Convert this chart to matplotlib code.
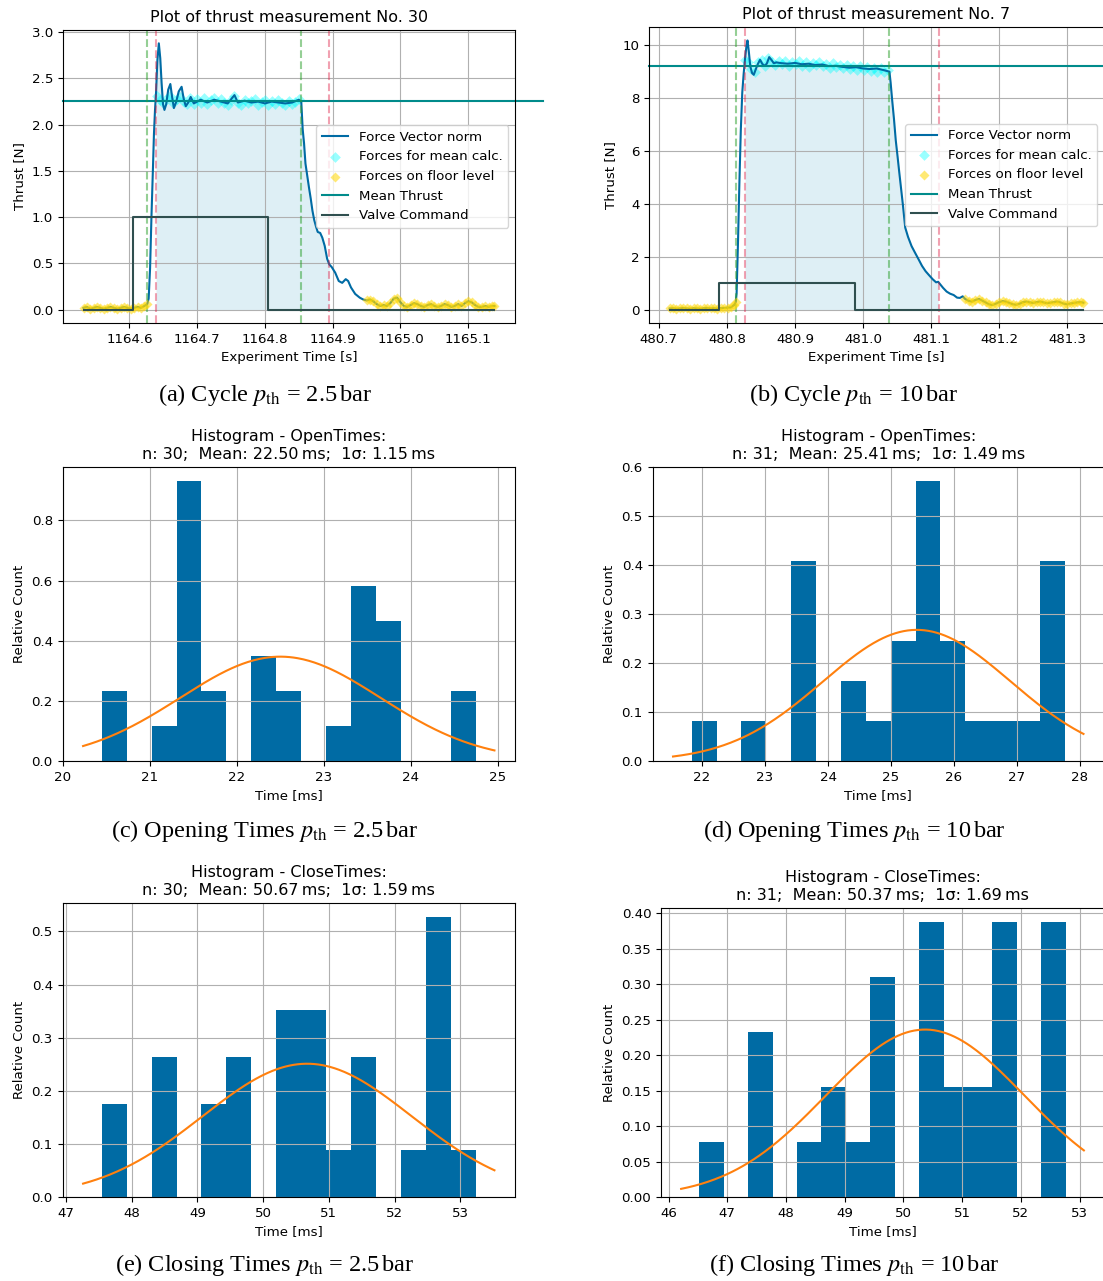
import numpy as np
import matplotlib.pyplot as plt

plt.rcParams['mathtext.fontset'] = 'stix'
plt.rcParams['font.size'] = 9.6

BLUE = '#006ba4'
ORANGE = '#ff800e'

# --- thrust cycle, p_th = 2.5 bar (measurement No. 30); times in ms after T0_A
T0_A = 1164.5
t_a = [32.3, 37, 42, 47, 52, 57, 62, 67, 72, 77, 82, 87, 92, 97, 102, 107, 112, 117, 122, 126.3,
       128.4, 130.5, 132.5, 134.6, 136.2, 137.7, 139.3, 141.3, 143.4, 145.5, 147.5, 149.6, 151.7,
       154.2, 157.3, 160.4, 163.0, 165.6, 168.7, 172.8, 177.0, 180.1, 183.2, 186.8, 190.4,
       195, 205, 215, 225, 235, 245, 255, 260, 270, 280, 290, 300, 310, 320, 330, 340, 350,
       353.6, 355.7, 357.7, 359.8, 362.4, 365.0, 367.6, 370.1, 372.7, 375.3, 377.9, 381.5, 384.6,
       388.2, 391.8, 394.9, 398.6, 403.7, 408.9, 414.0, 419.2, 422.8, 427.0, 433.2, 439.9, 445.0,
       450, 455, 460, 465, 470, 475, 480, 485, 490, 495, 500, 505, 510, 515, 520, 525, 530, 535,
       540, 545, 550, 555, 560, 565, 570, 575, 580, 585, 590, 595, 600, 605, 610, 615, 620, 625,
       630, 635, 638.7]
f_a = [0.02, 0.03, 0.01, 0.02, 0.03, 0.02, 0.01, 0.02, 0.03, 0.02, 0.01, 0.02, 0.03, 0.02, 0.01,
       0.02, 0.03, 0.02, 0.04, 0.06,
       0.12, 0.45, 1.00, 1.50, 1.90, 2.15, 2.35, 2.70, 2.88, 2.72, 2.45, 2.22, 2.16,
       2.22, 2.38, 2.44, 2.30, 2.18, 2.24, 2.36, 2.41, 2.28, 2.20, 2.24, 2.30,
       2.23, 2.27, 2.24, 2.27, 2.25, 2.23, 2.32, 2.24, 2.26, 2.24, 2.25, 2.23, 2.25, 2.24, 2.23,
       2.24, 2.27,
       2.25, 1.95, 1.80, 1.58, 1.45, 1.32, 1.20, 1.07, 0.97, 0.90, 0.84, 0.83, 0.78,
       0.69, 0.55, 0.49, 0.46, 0.40, 0.31, 0.29, 0.33, 0.31, 0.24, 0.17, 0.13, 0.11,
       0.10, 0.11, 0.09, 0.06, 0.04, 0.05, 0.04, 0.07, 0.12, 0.13, 0.08, 0.04, 0.03, 0.05, 0.07,
       0.06, 0.04, 0.03, 0.05, 0.06, 0.04, 0.03, 0.04, 0.06, 0.05, 0.03, 0.04, 0.06, 0.04, 0.07,
       0.09, 0.08, 0.05, 0.03, 0.03, 0.04, 0.03, 0.04, 0.04]
tc_a = [140, 145, 150, 155, 160, 165, 170, 175, 180, 185, 190, 195, 200, 205, 210, 215, 220,
        225, 230, 235, 240, 245, 250, 255, 260, 265, 270, 275, 280, 285, 290, 295, 300, 305,
        310, 315, 320, 325, 330, 335, 340, 345, 350]
fc_a = [2.31, 2.27, 2.24, 2.29, 2.31, 2.23, 2.28, 2.30, 2.25, 2.22, 2.29, 2.22, 2.28, 2.24,
        2.29, 2.22, 2.27, 2.29, 2.23, 2.28, 2.23, 2.21, 2.27, 2.31, 2.23, 2.21, 2.27, 2.23,
        2.26, 2.28, 2.21, 2.25, 2.27, 2.21, 2.26, 2.22, 2.27, 2.23, 2.21, 2.26, 2.22, 2.25, 2.28]
valve_t_a = [32.3, 104.6, 305.1, 638.7]
valve_a = [0, 1, 0, 0]
green_a = [126.3, 353.6]
red_a = [139.3, 394.9]
floor_tail_a = 448
mean_a = 2.253

# --- thrust cycle, p_th = 10 bar (measurement No. 7); times in ms after T0_B
T0_B = 480.7
t_b = [16, 21, 26, 31, 36, 41, 46, 51, 56, 61, 66, 71, 76, 81, 86, 91, 96, 101, 106, 111, 113.0,
       114.3, 116.4, 118.4, 120.5, 122.6, 124.6, 126.7, 128.7, 130.3, 132.3, 134.4, 137.0, 139.5,
       142.6, 145.7, 148.8, 151.9, 155.0, 158.6, 162.2, 165.3, 168.9, 173.0,
       180, 190, 200, 210, 220, 230, 240, 250, 260, 270, 280, 290, 300, 310, 320, 330,
       338.8, 340.5, 342.9, 345.5, 348.1, 350.7, 353.2, 355.8, 358.4, 362.0, 366.1, 371.3, 376.4,
       381.6, 386.7, 391.9, 397.0, 402.2, 407.3, 410.4, 413.5, 417.6, 422.8, 427.9, 433.1, 438.2,
       442.3, 446.4,
       450, 455, 460, 465, 470, 475, 480, 485, 490, 495, 500, 505, 510, 515, 520, 525, 530, 535,
       540, 545, 550, 555, 560, 565, 570, 575, 580, 585, 590, 595, 600, 605, 610, 615, 620, 623.6]
f_b = [0.04, 0.05, 0.03, 0.04, 0.06, 0.04, 0.03, 0.05, 0.04, 0.03, 0.05, 0.06, 0.04, 0.05, 0.03,
       0.05, 0.06, 0.07, 0.08, 0.18, 0.28,
       0.6, 2.6, 4.8, 6.8, 8.2, 8.9, 9.5, 9.95, 10.18, 9.75, 9.2, 8.95, 8.88,
       9.1, 9.3, 9.45, 9.3, 9.22, 9.3, 9.55, 9.45, 9.32, 9.35,
       9.32, 9.30, 9.33, 9.28, 9.30, 9.25, 9.27, 9.21, 9.22, 9.18, 9.15, 9.17, 9.12, 9.10, 9.12, 9.06,
       9.0, 8.6, 7.9, 7.2, 6.4, 5.8, 5.2, 4.6, 4.0, 3.1, 2.75, 2.4, 2.15,
       1.9, 1.65, 1.45, 1.3, 1.15, 1.03, 1.05, 0.95, 0.82, 0.68, 0.6, 0.55, 0.45,
       0.44, 0.5,
       0.40, 0.33, 0.30, 0.36, 0.40, 0.34, 0.27, 0.20, 0.17, 0.22, 0.28, 0.32, 0.30, 0.25, 0.20,
       0.18, 0.22, 0.28, 0.30, 0.27, 0.25, 0.28, 0.30, 0.27, 0.24, 0.26, 0.28, 0.30, 0.27, 0.22,
       0.20, 0.23, 0.25, 0.27, 0.28, 0.26]
tc_b = [126, 131, 136, 141, 146, 151, 156, 161, 166, 171, 176, 181, 186, 191, 196, 201, 206,
        211, 216, 221, 226, 231, 236, 241, 246, 251, 256, 261, 266, 271, 276, 281, 286, 291,
        296, 301, 306, 311, 316, 321, 326, 331, 336]
fc_b = [9.45, 9.35, 9.10, 9.00, 9.38, 9.45, 9.20, 9.50, 9.38, 9.25, 9.40, 9.30, 9.42, 9.20,
        9.36, 9.28, 9.40, 9.22, 9.35, 9.18, 9.33, 9.24, 9.36, 9.20, 9.30, 9.15, 9.32, 9.16,
        9.27, 9.12, 9.25, 9.10, 9.22, 9.08, 9.20, 9.05, 9.18, 9.02, 9.14, 9.00, 9.12, 8.98, 9.06]
valve_t_b = [16, 88.6, 288.4, 623.6]
valve_b = [0, 1, 0, 0]
green_b = [113.8, 338.8]
red_b = [126.2, 411.4]
floor_tail_b = 448
mean_b = 9.205

# --- histograms: counts per bin, data range, sample size, fitted mean / sigma [ms]
open_25_counts = [2, 0, 1, 8, 2, 0, 3, 2, 0, 1, 5, 4, 0, 0, 2]
open_25_range = (20.448, 24.745)
open_25_stats = (30, 22.50, 1.15)
open_10_counts = [1, 0, 1, 0, 5, 0, 2, 1, 3, 7, 3, 1, 1, 1, 5]
open_10_range = (21.835, 27.760)
open_10_stats = (31, 25.41, 1.49)
close_25_counts = [2, 0, 3, 0, 2, 3, 0, 4, 4, 1, 3, 0, 1, 6, 1]
close_25_range = (47.545, 53.236)
close_25_stats = (30, 50.67, 1.59)
close_10_counts = [1, 0, 3, 0, 1, 2, 1, 4, 0, 5, 2, 2, 5, 0, 5]
close_10_range = (46.526, 52.761)
close_10_stats = (31, 50.37, 1.69)

W, H = 1103, 1281
fig = plt.figure(figsize=(W / 100, H / 100), dpi=100)


def box(left, right, top, bottom):
    return [left / W, 1 - bottom / H, (right - left) / W, (bottom - top) / H]


def thrust_panel(ax, t0, t, f, tc, fc, vt, vv, green, red, tail, mean, title, ext):
    t = np.asarray(t, dtype=float)
    f = np.asarray(f, dtype=float)
    ts = t0 + t / 1000
    ax.plot(ts, f, color=BLUE, lw=1.5, label='Force Vector norm', zorder=2)
    ax.scatter(t0 + np.asarray(tc) / 1000, fc, s=30, marker='D', color='cyan', alpha=0.4,
               lw=0, zorder=1.8, label='Forces for mean calc.')
    floor = (t <= green[0]) | (t >= tail)
    ax.scatter(ts[floor], f[floor], s=26, marker='D', color='gold', alpha=0.55, lw=0,
               zorder=2.2, label='Forces on floor level')
    ax.axhline(mean, xmax=ext, color='darkcyan', lw=1.5, clip_on=False, label='Mean Thrust')
    ax.step(t0 + np.asarray(vt) / 1000, vv, where='post', color='darkslategray', lw=1.5,
            label='Valve Command', zorder=2.5)
    inside = (t >= red[0]) & (t <= red[1])
    ax.fill_between(ts, 0, f, where=inside, color='lightblue', alpha=0.4, lw=0)
    for g in green:
        ax.axvline(t0 + g / 1000, color='tab:green', ls='--', alpha=0.5, lw=1.5)
    for r in red:
        ax.axvline(t0 + r / 1000, color='crimson', ls='--', alpha=0.4, lw=1.5)
    ax.ticklabel_format(axis='x', useOffset=False)
    ax.grid(True)
    ax.set_title(title)
    ax.set_xlabel('Experiment Time [s]')
    ax.set_ylabel('Thrust [N]')
    ax.legend(loc='center right')


def hist_panel(ax, counts, rng, stats, name):
    n, mean, sigma = stats
    edges = np.linspace(rng[0], rng[1], len(counts) + 1)
    ax.hist(edges[:-1], bins=edges, weights=counts, density=True, color=BLUE)
    x = np.linspace(*ax.get_xlim(), 300)
    pdf = np.exp(-0.5 * ((x - mean) / sigma) ** 2) / (sigma * np.sqrt(2 * np.pi))
    ax.plot(x, pdf, color=ORANGE, lw=1.5)
    ax.grid(True)
    ax.set_title(f'Histogram - {name}:\nn: {n};  Mean: {mean:.2f}\u2009ms;  1σ: {sigma:.2f}\u2009ms')
    ax.set_xlabel('Time [ms]')
    ax.set_ylabel('Relative Count')


ax_a = fig.add_axes(box(63, 515, 30, 323))
thrust_panel(ax_a, T0_A, t_a, f_a, tc_a, fc_a, valve_t_a, valve_a, green_a, red_a,
             floor_tail_a, mean_a, 'Plot of thrust measurement No. 30', 1.062)
ax_b = fig.add_axes(box(649, 1104, 27, 323))
thrust_panel(ax_b, T0_B, t_b, f_b, tc_b, fc_b, valve_t_b, valve_b, green_b, red_b,
             floor_tail_b, mean_b, 'Plot of thrust measurement No. 7', 1.05)

hist_panel(fig.add_axes(box(62.5, 515, 467, 761)), open_25_counts, open_25_range,
           open_25_stats, 'OpenTimes')
hist_panel(fig.add_axes(box(652.5, 1104, 467, 761)), open_10_counts, open_10_range,
           open_10_stats, 'OpenTimes')
hist_panel(fig.add_axes(box(62.5, 515, 903, 1197)), close_25_counts, close_25_range,
           close_25_stats, 'CloseTimes')
hist_panel(fig.add_axes(box(661, 1104, 908, 1197)), close_10_counts, close_10_range,
           close_10_stats, 'CloseTimes')

captions = [
    (265, 401, r'(a) Cycle $p_\mathrm{th}$ = 2.5$\,$bar'),
    (854, 401, r'(b) Cycle $p_\mathrm{th}$ = 10$\,$bar'),
    (265, 837, r'(c) Opening Times $p_\mathrm{th}$ = 2.5$\,$bar'),
    (854, 837, r'(d) Opening Times $p_\mathrm{th}$ = 10$\,$bar'),
    (265, 1271, r'(e) Closing Times $p_\mathrm{th}$ = 2.5$\,$bar'),
    (854, 1271, r'(f) Closing Times $p_\mathrm{th}$ = 10$\,$bar'),
]
for x, y, txt in captions:
    fig.text(x / W, 1 - y / H, txt, ha='center', va='baseline', fontsize=17.5,
             family='Liberation Serif')

fig.savefig('out.png', dpi=100)
